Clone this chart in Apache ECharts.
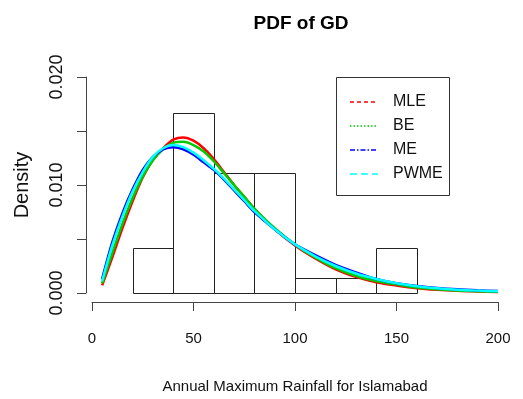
<!DOCTYPE html>
<html>
<head>
<meta charset="utf-8">
<script src="https://cdn.jsdelivr.net/npm/echarts@6/dist/echarts.min.js"></script>
<style>
html,body{margin:0;padding:0;background:#fff;}
#chart{width:523px;height:399px;}
</style>
</head>
<body>
<div id="chart"></div>
<script>
// Histogram
const binEdges = [20, 40, 60, 80, 100, 120, 140, 160];
const binDensity = [0.00417, 0.01667, 0.01111, 0.01111, 0.00139, 0.00139, 0.00417];

// Fitted PDF curves
const xs = [5,10,15,20,25,30,35,40,45,50,55,60,65,70,75,80,90,100,110,120,130,140,150,160,170,180,190,200];
const mle  = [0.0007,0.0033,0.0060,0.0085,0.0107,0.0123,0.0134,0.0142,0.0144,0.0141,0.0134,0.0124,0.0112,0.0100,0.0089,0.0078,0.0059,0.0044,0.0032,0.0022,0.0015,0.0010,0.0007,0.00045,0.0003,0.0002,0.00014,0.0001];
const be   = [0.0009,0.0037,0.0064,0.0088,0.0108,0.0123,0.0133,0.0139,0.0140,0.0137,0.0131,0.0122,0.0111,0.0100,0.0089,0.0078,0.0060,0.0045,0.0033,0.0023,0.0016,0.0011,0.0008,0.0005,0.00035,0.00024,0.00017,0.00012];
const me   = [0.0013,0.0047,0.0074,0.0096,0.0114,0.0126,0.0133,0.0135,0.0133,0.0128,0.0121,0.0114,0.0105,0.0095,0.0085,0.0075,0.0059,0.0045,0.0035,0.0026,0.0019,0.0013,0.0009,0.00065,0.00047,0.00034,0.00025,0.00018];
const pwme = [0.0011,0.0044,0.0071,0.0094,0.0112,0.0126,0.0134,0.0137,0.0135,0.0130,0.0123,0.0115,0.0106,0.0096,0.0086,0.0076,0.0059,0.0045,0.0034,0.0025,0.0018,0.0013,0.0009,0.00062,0.00044,0.00031,0.00022,0.00016];

const seriesNames = ['MLE', 'BE', 'ME', 'PWME'];
const seriesColors = ['#ff0000', '#00cc00', '#0000ff', '#00ffff'];
const legendDash = [[4,3], [1.5,2], [5,2,1.5,2], [7,4]];
const curveData = [mle, be, me, pwme];

const xTicks = [0, 50, 100, 150, 200];
const yLabels = [0, 0.010, 0.020];

const sans = '"Liberation Sans", Arial, sans-serif';

const chart = echarts.init(document.getElementById('chart'), null, {renderer: 'canvas'});

const histData = binDensity.map((d, i) => [binEdges[i], binEdges[i + 1], d]);

const lineSeries = seriesNames.map((name, k) => ({
  name: name,
  type: 'line',
  smooth: 0.3,
  symbol: 'none',
  showSymbol: false,
  z: 3 + k,
  lineStyle: {color: seriesColors[k], width: 2.5},
  itemStyle: {color: seriesColors[k]},
  data: xs.map((x, i) => [x, curveData[k][i]])
}));

// legend drawn as graphic elements (box, line samples, labels)
const legendLeft = 336, legendTop = 77, legendW = 113, legendH = 118;
const legendItems = [];
legendItems.push({type: 'rect', shape: {x: legendLeft + 0.5, y: legendTop + 0.5, width: legendW, height: legendH},
  style: {fill: '#fff', stroke: '#333', lineWidth: 1}, z: 100});
seriesNames.forEach((n, k) => {
  const cy = legendTop + 25 + k * 24;
  legendItems.push({type: 'line', shape: {x1: legendLeft + 14, y1: cy, x2: legendLeft + 42, y2: cy},
    style: {stroke: seriesColors[k], lineWidth: 1.5, lineDash: legendDash[k]}, z: 101});
  legendItems.push({type: 'text', x: legendLeft + 57, y: cy,
    style: {text: n, fill: '#111', font: '16px ' + sans, textVerticalAlign: 'middle', verticalAlign: 'middle'}, z: 101});
});

chart.setOption({
  animation: false,
  backgroundColor: '#fff',
  title: {
    text: 'PDF of GD',
    left: 296,
    top: 9,
    textAlign: 'center',
    textStyle: {fontFamily: sans, fontWeight: 'bold', fontSize: 19, color: '#000'}
  },
  grid: {left: 92, right: 25, top: 77, bottom: 106, containLabel: false},
  graphic: legendItems,
  xAxis: {
    type: 'value',
    min: 0, max: 200, interval: 50,
    offset: 9,
    name: 'Annual Maximum Rainfall for Islamabad',
    nameLocation: 'middle',
    nameGap: 77,
    nameTextStyle: {fontFamily: sans, fontSize: 15, color: '#111'},
    splitLine: {show: false},
    axisLine: {show: true, onZero: false, lineStyle: {color: '#444', width: 1}},
    axisTick: {show: true, length: 9, lineStyle: {color: '#444'}},
    axisLabel: {fontFamily: sans, fontSize: 15, color: '#111', margin: 29,
      formatter: v => xTicks.includes(v) ? String(v) : ''}
  },
  yAxis: {
    type: 'value',
    min: 0, max: 0.02, interval: 0.005,
    offset: 6,
    name: 'Density',
    nameLocation: 'middle',
    nameGap: 54,
    nameRotate: 90,
    nameTextStyle: {fontFamily: sans, fontSize: 20, color: '#111', padding: [0, 0, 0, 0]},
    splitLine: {show: false},
    axisLine: {show: true, onZero: false, lineStyle: {color: '#444', width: 1}},
    axisTick: {show: true, length: 9, lineStyle: {color: '#444'}},
    axisLabel: {fontFamily: sans, fontSize: 18, color: '#111', rotate: 90, margin: 29,
      verticalAlign: 'middle', align: 'center',
      formatter: v => {
        const hit = yLabels.find(t => Math.abs(t - v) < 1e-9);
        return hit !== undefined ? hit.toFixed(3) : '';
      }}
  },
  series: [
    {
      name: 'hist',
      type: 'custom',
      z: 2,
      renderItem: function (params, api) {
        const p0 = api.coord([api.value(0), api.value(2)]);
        const p1 = api.coord([api.value(1), 0]);
        const x0 = Math.round(p0[0]), x1 = Math.round(p1[0]);
        const y0 = Math.round(p0[1]), y1 = Math.round(p1[1]);
        return {
          type: 'rect',
          shape: {x: x0 + 0.5, y: y0 + 0.5, width: x1 - x0, height: y1 - y0},
          style: {fill: 'none', stroke: '#222', lineWidth: 1}
        };
      },
      encode: {x: [0, 1], y: 2},
      data: histData
    }
  ].concat(lineSeries)
});
</script>
</body>
</html>
